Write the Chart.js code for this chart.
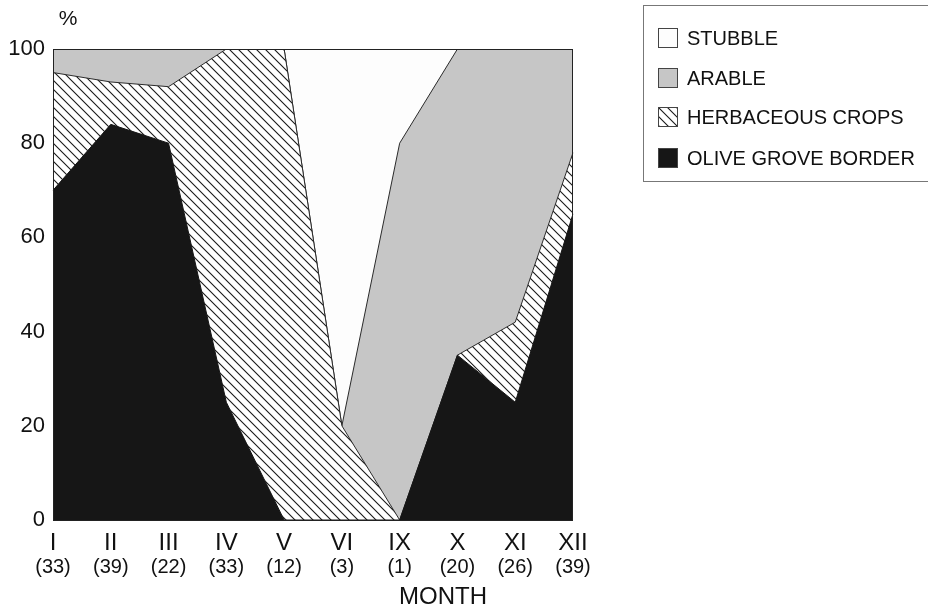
<!DOCTYPE html>
<html>
<head>
<meta charset="utf-8">
<script src="https://cdn.jsdelivr.net/npm/chart.js@4.4.0/dist/chart.umd.min.js"></script>
<style>
  body { margin: 0; background: #fff; font-family: "Liberation Sans", Arial, sans-serif; }
  #wrap { position: relative; width: 928px; height: 611px; overflow: hidden; }
  #legend { position: absolute; left: 643px; top: 5px; width: 320px; height: 177px; border: 1px solid #777; box-sizing: border-box; }
  .item { position: absolute; left: 14px; height: 22px; display: flex; align-items: center; font-size: 20px; color: #111; white-space: nowrap; }
  .sw { width: 20px; height: 20px; border: 1px solid #444; box-sizing: border-box; margin-right: 9px; }
</style>
</head>
<body>
<div id="wrap">
  <canvas id="chart" width="928" height="611"></canvas>
  <div id="legend"></div>
</div>
<script>
const months = ['I', 'II', 'III', 'IV', 'V', 'VI', 'IX', 'X', 'XI', 'XII'];
const sampleSizes = [33, 39, 22, 33, 12, 3, 1, 20, 26, 39];
const yTicks = [0, 20, 40, 60, 80, 100];

// % of each habitat per month, stacked bottom to top
const oliveGrove = [70, 84, 80, 25, 0, 0, 0, 35, 25, 65];
const herbaceous = [25, 9, 12, 75, 100, 20, 0, 0, 17, 13];
const arable = [5, 7, 8, 0, 0, 0, 80, 65, 58, 22];
const stubble = [0, 0, 0, 0, 0, 80, 20, 0, 0, 0];

const FONT = '"Liberation Sans", Arial, sans-serif';

function makeHatch() {
  const c = document.createElement('canvas');
  c.width = 9; c.height = 9;
  const g = c.getContext('2d');
  g.fillStyle = '#fff';
  g.fillRect(0, 0, 9, 9);
  g.strokeStyle = '#1a1a1a';
  g.lineWidth = 1.1;
  g.beginPath();
  g.moveTo(-1, -1); g.lineTo(10, 10);
  g.moveTo(-1, 8); g.lineTo(1, 10);
  g.moveTo(8, -1); g.lineTo(10, 1);
  g.stroke();
  return c;
}

const hatchCanvas = makeHatch();
const hatch = document.getElementById('chart').getContext('2d').createPattern(hatchCanvas, 'repeat');

// legend box (top to bottom as in the figure)
const legendItems = [
  { text: 'STUBBLE', bg: '#fdfdfd', top: 21 },
  { text: 'ARABLE', bg: '#c6c6c6', top: 61 },
  { text: 'HERBACEOUS CROPS', bg: 'url(' + hatchCanvas.toDataURL() + ')', top: 100 },
  { text: 'OLIVE GROVE BORDER', bg: '#161616', top: 141 }
];
const legend = document.getElementById('legend');
legendItems.forEach(it => {
  const row = document.createElement('div');
  row.className = 'item';
  row.style.top = it.top + 'px';
  row.innerHTML = `<span class="sw" style="background:${it.bg}"></span><span>${it.text}</span>`;
  legend.appendChild(row);
});

const extras = {
  id: 'extras',
  afterDraw(chart) {
    const { ctx, chartArea: a, scales: { x } } = chart;
    ctx.save();
    ctx.strokeStyle = '#222';
    ctx.lineWidth = 1;
    ctx.strokeRect(a.left + 0.5, a.top + 0.5, a.right - a.left - 1, a.bottom - a.top);
    ctx.fillStyle = '#111';
    ctx.textAlign = 'center';
    ctx.textBaseline = 'middle';
    ctx.font = '20px ' + FONT;
    sampleSizes.forEach((n, i) => {
      ctx.fillText('(' + n + ')', x.getPixelForTick(i), a.bottom + 47);
    });
    ctx.font = '24px ' + FONT;
    ctx.fillText('MONTH', a.left + 390, a.bottom + 77);
    ctx.font = '21px ' + FONT;
    ctx.fillText('%', a.left + 15, a.top - 30);
    ctx.restore();
  }
};

new Chart(document.getElementById('chart'), {
  type: 'line',
  data: {
    labels: months,
    datasets: [
      { label: 'OLIVE GROVE BORDER', data: oliveGrove, backgroundColor: '#161616', borderColor: '#161616', fill: 'origin' },
      { label: 'HERBACEOUS CROPS', data: herbaceous, backgroundColor: hatch, borderColor: '#2a2a2a', fill: '-1' },
      { label: 'ARABLE', data: arable, backgroundColor: '#c6c6c6', borderColor: '#2a2a2a', fill: '-1' },
      { label: 'STUBBLE', data: stubble, backgroundColor: '#fdfdfd', borderColor: '#2a2a2a', fill: '-1' }
    ]
  },
  options: {
    responsive: false,
    animation: false,
    elements: {
      line: { tension: 0, borderWidth: 1 },
      point: { radius: 0 }
    },
    layout: { padding: { left: 0, right: 355, top: 49, bottom: 0 } },
    plugins: {
      legend: { display: false },
      tooltip: { enabled: false }
    },
    scales: {
      x: {
        grid: { display: false, drawTicks: false },
        border: { display: false },
        ticks: { color: '#111', font: { family: FONT, size: 24 }, padding: 9, maxRotation: 0, autoSkip: false },
        afterFit: s => { s.height = 91; }
      },
      y: {
        stacked: true,
        min: 0,
        max: 100,
        grid: { display: false, drawTicks: false },
        border: { display: false },
        ticks: { color: '#111', font: { family: FONT, size: 22 }, padding: 8 },
        afterBuildTicks: s => { s.ticks = yTicks.map(v => ({ value: v })); },
        afterFit: s => { s.width = 53; }
      }
    }
  },
  plugins: [extras]
});
</script>
</body>
</html>
